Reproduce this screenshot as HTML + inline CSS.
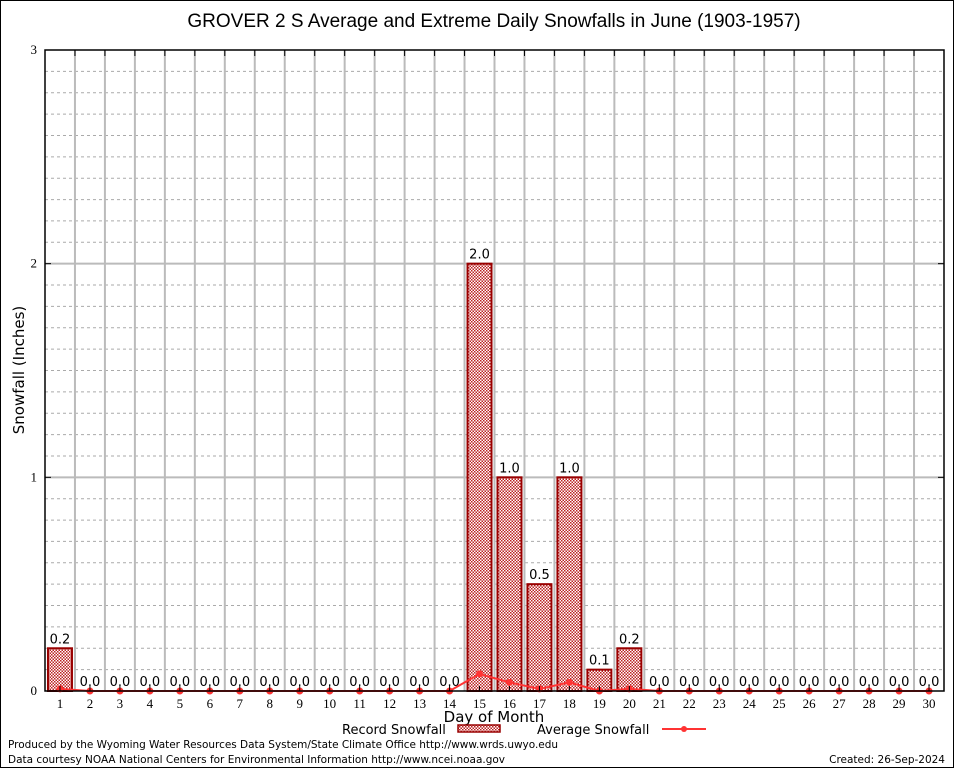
<!DOCTYPE html>
<html><head><meta charset="utf-8"><style>
body{margin:0;background:#fff;}
svg text{font-family:"DejaVu Sans","Liberation Sans",sans-serif;}
svg text.serif{font-family:"Liberation Serif",serif;}
svg text.lib{font-family:"Liberation Sans",sans-serif;}
</style></head><body>
<svg id="c" width="954" height="768" viewBox="0 0 954 768" xmlns="http://www.w3.org/2000/svg">
<defs>
<pattern id="chk" width="3" height="3" patternUnits="userSpaceOnUse">
<rect width="3" height="3" fill="#fff"/><rect width="1.5" height="1.5" fill="#b22"/><rect x="1.5" y="1.5" width="1.5" height="1.5" fill="#b22"/>
</pattern>
</defs>
<rect x="0.5" y="0.5" width="953" height="767" fill="#fff" stroke="#000"/>
<text class="lib" x="494" y="27" font-size="19" text-anchor="middle">GROVER 2 S Average and Extreme Daily Snowfalls in June (1903-1957)</text>
<g id="grid"></g><g id="bars"></g><g id="line"></g><g id="axes"></g>
<text x="24" y="370" font-size="15" text-anchor="middle" transform="rotate(-90 24 370)">Snowfall (Inches)</text>
<text x="494" y="722" font-size="15" text-anchor="middle">Day of Month</text>
<g>
<text x="342" y="734" font-size="13">Record Snowfall</text>
<rect x="458" y="725" width="42" height="7" fill="url(#chk)" stroke="#900" stroke-width="1.5"/>
<text x="537" y="734" font-size="13">Average Snowfall</text>
<line x1="662" y1="729" x2="706" y2="729" stroke="#f33" stroke-width="2"/>
<circle cx="684" cy="729" r="3" fill="#f33"/>
</g>
<text x="8" y="748" font-size="10.5" textLength="550">Produced by the Wyoming Water Resources Data System/State Climate Office http://www.wrds.uwyo.edu</text>
<text x="8" y="763" font-size="10.5" textLength="497">Data courtesy NOAA National Centers for Environmental Information http://www.ncei.noaa.gov</text>
<text x="945" y="763" font-size="10.5" text-anchor="end">Created: 26-Sep-2024</text>
</svg>
<script>
const days=[1,2,3,4,5,6,7,8,9,10,11,12,13,14,15,16,17,18,19,20,21,22,23,24,25,26,27,28,29,30];
const record=[0.2,0,0,0,0,0,0,0,0,0,0,0,0,0,2.0,1.0,0.5,1.0,0.1,0.2,0,0,0,0,0,0,0,0,0,0];
const average=[0.01,0,0,0,0,0,0,0,0,0,0,0,0,0,0.08,0.04,0.01,0.04,0,0.01,0,0,0,0,0,0,0,0,0,0];
const yTicks=[0,1,2,3];
const NS='http://www.w3.org/2000/svg';
const L=45,R=944,T=50,B=691,ymax=3;
const step=(R-L)/days.length;
const x=d=>L+(d-0.5)*step;
const y=v=>B-(v/ymax)*(B-T);
function mk(p,t,a){const e=document.createElementNS(NS,t);for(const k in a)e.setAttribute(k,a[k]);p.appendChild(e);return e;}
const grid=document.getElementById('grid'),bars=document.getElementById('bars'),line=document.getElementById('line'),axes=document.getElementById('axes');
for(let i=1;i<ymax*10;i++){if(i%10===0)continue;const g=mk(grid,'line',{x1:L,x2:R,y1:y(i/10),y2:y(i/10),stroke:'#aaa','stroke-dasharray':'3,3','stroke-width':1});

}
yTicks.forEach(t=>{if(t>0&&t<ymax){const g=mk(grid,'line',{x1:L,x2:R,y1:y(t),y2:y(t),stroke:'#bbb','stroke-width':2});

}
const tx=mk(axes,'text',{x:L-8,y:y(t)+4,'font-size':13,'text-anchor':'end','class':'serif'});tx.textContent=t;


mk(axes,'line',{x1:L,x2:L+6,y1:y(t),y2:y(t),stroke:'#000'});mk(axes,'line',{x1:R,x2:R-6,y1:y(t),y2:y(t),stroke:'#000'});});
for(let i=1;i<days.length;i++){const xx=L+i*step;const g=mk(grid,'line',{x1:xx,x2:xx,y1:T,y2:B,stroke:'#bbb','stroke-width':2});


mk(axes,'line',{x1:xx,x2:xx,y1:T,y2:T+6,stroke:'#000'});}
days.forEach((d,i)=>{const v=record[i];const bw=24;
if(v>0){const r=mk(bars,'rect',{x:x(d)-bw/2,y:y(v),width:bw,height:B-y(v),fill:'url(#chk)',stroke:'#900','stroke-width':2});

}
const lb=mk(bars,'text',{x:x(d),y:y(v)-5,'font-size':13,'text-anchor':'middle'});lb.textContent=v.toFixed(1);


const xl=mk(axes,'text',{x:x(d),y:B+17,'font-size':13,'text-anchor':'middle','class':'serif'});xl.textContent=d;


mk(axes,'line',{x1:x(d),x2:x(d),y1:B,y2:B-5,stroke:'#000'});});
const pl=mk(line,'polyline',{points:days.map((d,i)=>x(d)+','+y(average[i])).join(' '),fill:'none',stroke:'#f33','stroke-width':2});


days.forEach((d,i)=>{const c=mk(line,'circle',{cx:x(d),cy:y(average[i]),r:3.5,fill:'#f33'});

});
const fr=mk(axes,'rect',{x:L,y:T,width:R-L,height:B-T,fill:'none',stroke:'#000','stroke-width':1.5});


</script>
</body></html>
